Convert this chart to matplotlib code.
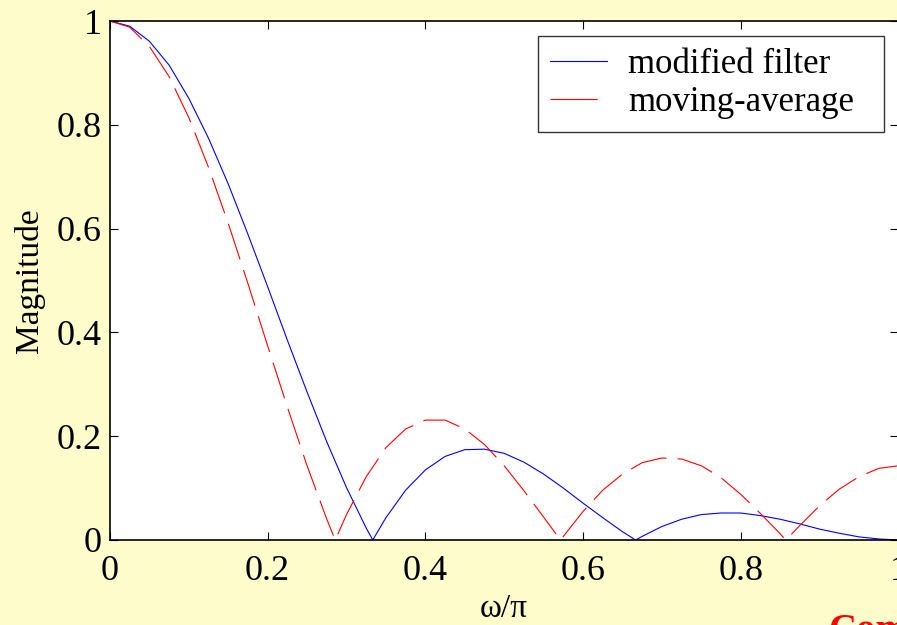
import matplotlib
matplotlib.use("Agg")
import matplotlib.pyplot as plt

plt.rcParams['font.family'] = ['Liberation Serif', 'DejaVu Serif']
plt.rcParams['lines.scale_dashes'] = False

# normalized frequency w/pi
freq_mod = [0, 0.025, 0.05, 0.075, 0.1, 0.125, 0.15, 0.175, 0.2, 0.225, 0.25,
            0.275, 0.3, 0.325, 0.3333, 0.35, 0.375, 0.4, 0.425, 0.45, 0.475,
            0.5, 0.525, 0.55, 0.575, 0.6, 0.625, 0.65, 0.6667, 0.675, 0.7,
            0.725, 0.75, 0.775, 0.8, 0.825, 0.85, 0.875, 0.9, 0.925, 0.95,
            0.975, 1.0]
mag_mod = [1.0, 0.990, 0.961, 0.915, 0.851, 0.774, 0.686, 0.589, 0.488, 0.385,
           0.285, 0.189, 0.101, 0.023, 0.0, 0.043, 0.096, 0.135, 0.161, 0.174,
           0.175, 0.167, 0.150, 0.127, 0.100, 0.071, 0.043, 0.016, 0.0, 0.007,
           0.026, 0.040, 0.049, 0.052, 0.052, 0.047, 0.040, 0.031, 0.021,
           0.013, 0.006, 0.002, 0.0]

freq_ma = [0, 0.025, 0.05, 0.075, 0.1, 0.125, 0.15, 0.175, 0.2, 0.225, 0.25,
           0.275, 0.2857, 0.3, 0.325, 0.35, 0.375, 0.4, 0.425, 0.45, 0.475,
           0.5, 0.525, 0.55, 0.5714, 0.575, 0.6, 0.625, 0.65, 0.675, 0.7,
           0.725, 0.75, 0.775, 0.8, 0.825, 0.85, 0.8571, 0.875, 0.9, 0.925,
           0.95, 0.975, 1.0]
mag_ma = [1.0, 0.988, 0.951, 0.893, 0.814, 0.718, 0.610, 0.494, 0.374, 0.256,
          0.143, 0.040, 0.0, 0.049, 0.122, 0.178, 0.214, 0.231, 0.231, 0.214,
          0.184, 0.143, 0.095, 0.044, 0.0, 0.007, 0.055, 0.096, 0.127, 0.149,
          0.158, 0.156, 0.143, 0.120, 0.088, 0.051, 0.012, 0.0, 0.028, 0.066,
          0.098, 0.122, 0.138, 0.143]

xticks = [0, 0.2, 0.4, 0.6, 0.8, 1]
yticks = [0, 0.2, 0.4, 0.6, 0.8, 1]

bg = '#FFFCCC'
fig = plt.figure(figsize=(8.97, 6.25), dpi=100, facecolor=bg)
ax = fig.add_axes([0.1226, 0.136, 0.879, 0.8304])
ax.set_facecolor('white')

ax.plot(freq_mod, mag_mod, color='#0000FF', lw=0.8, label='modified filter')
ax.plot(freq_ma, mag_ma, color='#FF0000', lw=0.8, dashes=(27, 8),
        label='moving-average')

ax.set_xlim(0, 1)
ax.set_ylim(0, 1)
ax.set_xticks(xticks)
ax.set_xticklabels(['0', '0.2', '0.4', '0.6', '0.8', '1'])
ax.set_yticks(yticks)
ax.set_yticklabels(['0', '0.2', '0.4', '0.6', '0.8', '1'])
ax.tick_params(direction='in', length=6, width=0.8, labelsize=26,
               top=True, right=True)
ax.tick_params(axis='x', pad=11)
ax.tick_params(axis='y', pad=6)
for s in ax.spines.values():
    s.set_linewidth(1.2)

ax.set_xlabel('ω/π', fontsize=24, labelpad=4)
ax.set_ylabel('Magnitude', fontsize=24, labelpad=8)

leg = ax.legend(loc='upper left', bbox_to_anchor=(0.5428, 0.0, 0.4388, 0.971),
                mode='expand', fontsize=25,
                frameon=True, fancybox=False, handlelength=1.65,
                borderpad=0.35, labelspacing=0.15, handletextpad=0.6,
                borderaxespad=0)
leg.get_frame().set_edgecolor('black')
leg.get_frame().set_linewidth(1.0)
leg.get_lines()[1].set_dashes((34, 14))

fig.text(828 / 897, 1 - 613 / 625, 'Com', color='#FF0000', fontsize=28,
         fontweight='bold', va='top', ha='left')

fig.savefig('out.png', dpi=100, facecolor=bg)
